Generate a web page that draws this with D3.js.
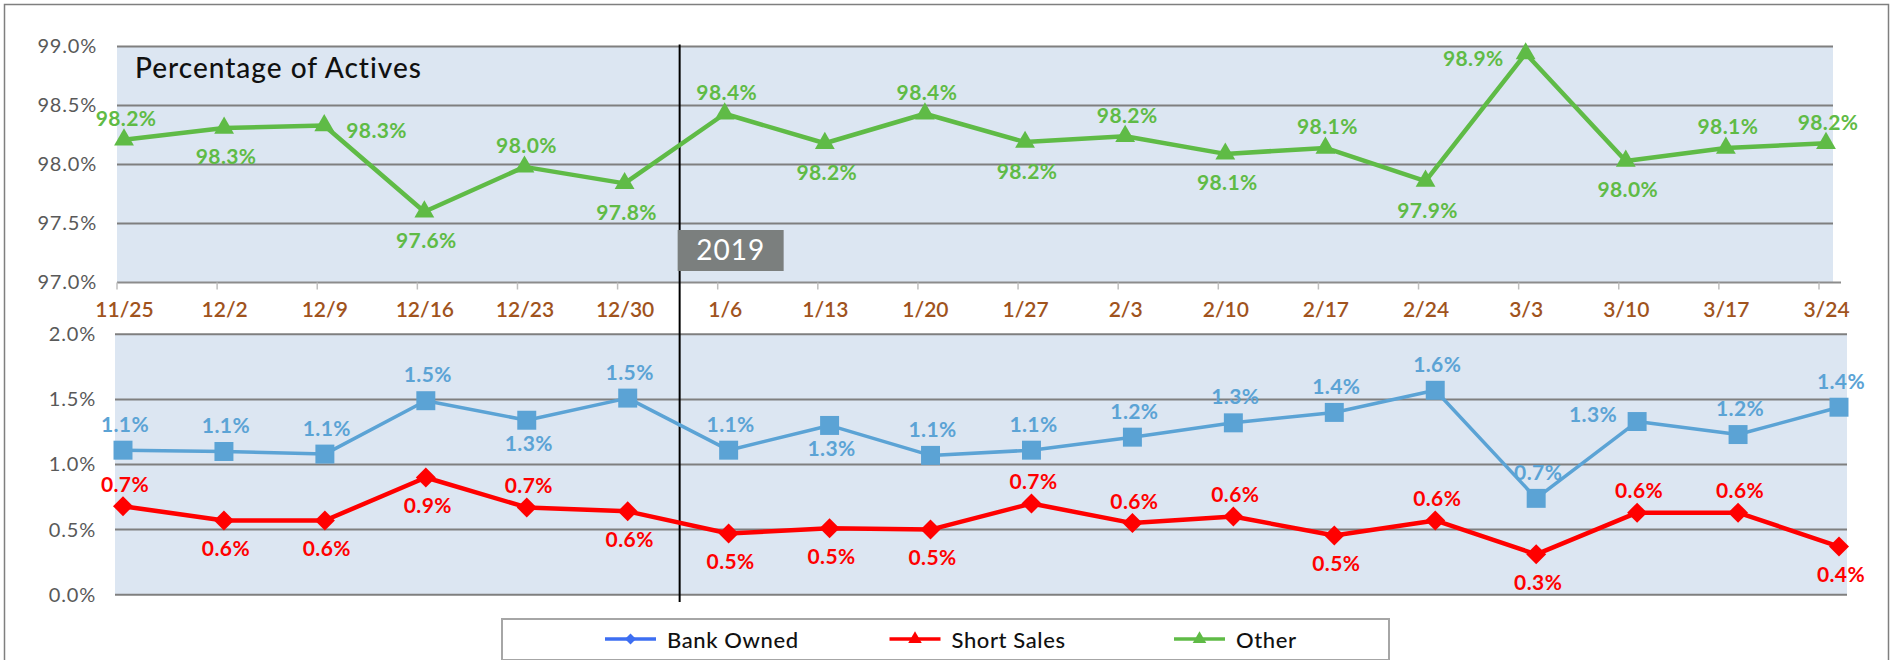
<!DOCTYPE html>
<html>
<head>
<meta charset="utf-8">
<script src="https://cdn.jsdelivr.net/npm/d3@7"></script>
<style>
  body { margin: 0; background: #fff; }
  svg { display: block; font-family: Lato, "Open Sans", sans-serif; }
</style>
</head>
<body>
<div id="chart"></div>
<script>
// week labels (category axis)
var weeks = ["11/25", "12/2", "12/9", "12/16", "12/23", "12/30", "1/6", "1/13", "1/20",
             "1/27", "2/3", "2/10", "2/17", "2/24", "3/3", "3/10", "3/17", "3/24"];

// percentage of actives
var otherPct = [98.21, 98.31, 98.33, 97.60, 97.98, 97.84, 98.43, 98.18, 98.43,
                98.19, 98.24, 98.09, 98.14, 97.86, 98.94, 98.03, 98.14, 98.18];
var bankOwnedPct = [1.11, 1.10, 1.08, 1.49, 1.34, 1.51, 1.11, 1.30, 1.07,
                    1.11, 1.21, 1.32, 1.40, 1.57, 0.74, 1.33, 1.23, 1.44];
var shortSalesPct = [0.68, 0.57, 0.57, 0.90, 0.67, 0.64, 0.47, 0.51, 0.50,
                     0.70, 0.55, 0.60, 0.455, 0.57, 0.31, 0.63, 0.63, 0.37];

// where each data label sits relative to its point
var otherLabelPos = ["above", "below", "right", "below", "above", "below", "above", "below", "above",
                     "below", "above", "below", "above", "below", "left", "below", "above", "above"];
var bankLabelPos = ["above", "above", "above", "above", "below", "above", "above", "below", "above",
                    "above", "above", "above", "above", "above", "above", "left", "above", "above"];
var shortLabelPos = ["above", "below", "below", "below", "above", "below", "below", "below", "below",
                     "above", "above", "above", "below", "above", "below", "above", "above", "below"];

var topTicks = [97, 97.5, 98, 98.5, 99];
var bottomTicks = [0, 0.5, 1, 1.5, 2];
var legendItems = ["Bank Owned", "Short Sales", "Other"];
var chartTitle = "Percentage of Actives";
var yearMark = "2019";

var width = 1895, height = 660;

var svg = d3.select("#chart").append("svg")
    .attr("width", width)
    .attr("height", height);

// outer frame
svg.append("rect")
    .attr("x", 4.5).attr("y", 4.5)
    .attr("width", 1884).attr("height", 700)
    .attr("fill", "none")
    .attr("stroke", "#7f7f7f")
    .attr("stroke-width", 1.5);

var fmt = function(v) { return v.toFixed(1) + "%"; };

// scales
var xTop = d3.scalePoint().domain(weeks).range([124, 1826]);
var xBot = d3.scalePoint().domain(weeks).range([123, 1839]);
var yTop = d3.scaleLinear().domain([97, 99]).range([282.5, 46.5]);
var yBot = d3.scaleLinear().domain([0, 2]).range([594.7, 334.3]);

var green = "#5fbb46", red = "#ff0000", blue = "#5ba3d5";

/*********************** top panel ***********************/
var topG = svg.append("g");

topG.append("rect")
    .attr("x", 117).attr("y", yTop(99))
    .attr("width", 1833 - 117).attr("height", yTop(97) - yTop(99))
    .attr("fill", "#dce6f2");

topG.selectAll(".grid").data(topTicks.slice(1)).enter().append("line")
    .attr("x1", 117).attr("x2", 1833)
    .attr("y1", d => yTop(d)).attr("y2", d => yTop(d))
    .attr("stroke", "#7f7f7f").attr("stroke-width", 2);

// category axis line + ticks
topG.append("line")
    .attr("x1", 117).attr("x2", 1841)
    .attr("y1", yTop(97)).attr("y2", yTop(97))
    .attr("stroke", "#8c8c8c").attr("stroke-width", 2);
topG.selectAll(".tk").data(weeks).enter().append("line")
    .attr("x1", d => xTop(d) - 7).attr("x2", d => xTop(d) - 7)
    .attr("y1", yTop(97)).attr("y2", yTop(97) + 7)
    .attr("stroke", "#bfbfbf").attr("stroke-width", 1.5);

var yAxisTop = topG.append("g")
    .attr("transform", "translate(97,0)")
    .call(d3.axisLeft(yTop).tickValues(topTicks).tickSize(0).tickPadding(0).tickFormat(fmt));
yAxisTop.select(".domain").remove();
yAxisTop.selectAll("text")
    .attr("font-family", "Lato, sans-serif")
    .attr("font-size", 20).attr("letter-spacing", 0.8).attr("fill", "#595959");

var xAxisTop = topG.append("g")
    .attr("transform", "translate(0," + (yTop(97) + 10) + ")")
    .call(d3.axisBottom(xTop).tickSize(0).tickPadding(10));
xAxisTop.select(".domain").remove();
xAxisTop.selectAll("text")
    .attr("font-family", "Lato, sans-serif")
    .attr("font-size", 21).attr("font-weight", 600).attr("fill", "#a0531d");

topG.append("text")
    .attr("x", 135).attr("y", 78)
    .attr("font-size", 28).attr("font-weight", 500).attr("letter-spacing", 1)
    .attr("fill", "#111")
    .text(chartTitle);

/*********************** bottom panel ***********************/
var botG = svg.append("g");

botG.append("rect")
    .attr("x", 115).attr("y", yBot(2))
    .attr("width", 1847 - 115).attr("height", yBot(0) - yBot(2))
    .attr("fill", "#dce6f2");

botG.selectAll(".grid").data(bottomTicks).enter().append("line")
    .attr("x1", 115).attr("x2", 1847)
    .attr("y1", d => yBot(d)).attr("y2", d => yBot(d))
    .attr("stroke", "#7f7f7f").attr("stroke-width", 2);

var yAxisBot = botG.append("g")
    .attr("transform", "translate(96,0)")
    .call(d3.axisLeft(yBot).tickValues(bottomTicks).tickSize(0).tickPadding(0).tickFormat(fmt));
yAxisBot.select(".domain").remove();
yAxisBot.selectAll("text")
    .attr("font-family", "Lato, sans-serif")
    .attr("font-size", 20).attr("letter-spacing", 0.8).attr("fill", "#595959");

/*********************** 2019 divider ***********************/
var divX = (xTop("12/30") + xTop("1/6")) / 2 + 5;
svg.append("line")
    .attr("x1", divX).attr("x2", divX)
    .attr("y1", yTop(99) - 2).attr("y2", 602)
    .attr("stroke", "#000").attr("stroke-width", 2);
svg.append("rect")
    .attr("x", divX - 2).attr("y", 230)
    .attr("width", 106).attr("height", 41)
    .attr("fill", "#7b7f7e");
svg.append("text")
    .attr("x", divX + 51).attr("y", 260)
    .attr("text-anchor", "middle")
    .attr("font-size", 28).attr("letter-spacing", 1).attr("fill", "#fff")
    .text(yearMark);

/*********************** series ***********************/
function drawSeries(g, x, y, values, color, lineWidth, symbolType, symbolSize, rotate, labelPos, offs) {
  var pts = weeks.map((w, i) => ({ w: w, v: values[i], pos: labelPos[i] }));

  g.append("path")
      .datum(pts)
      .attr("fill", "none")
      .attr("stroke", color)
      .attr("stroke-width", lineWidth)
      .attr("stroke-linejoin", "round")
      .attr("d", d3.line().x(d => x(d.w)).y(d => y(d.v)));

  g.selectAll(".mk").data(pts).enter().append("path")
      .attr("d", d3.symbol().type(symbolType).size(symbolSize))
      .attr("fill", color)
      .attr("transform", d => "translate(" + x(d.w) + "," + y(d.v) + ") rotate(" + rotate + ")");

  g.selectAll(".lb").data(pts).enter().append("text")
      .attr("x", d => x(d.w) + (d.pos === "right" ? offs.side : d.pos === "left" ? -offs.side : 2))
      .attr("y", d => y(d.v) + (d.pos === "above" ? offs.above : d.pos === "below" ? offs.below : offs.mid))
      .attr("text-anchor", d => d.pos === "right" ? "start" : d.pos === "left" ? "end" : "middle")
      .attr("dominant-baseline", "central")
      .attr("font-size", 21).attr("font-weight", 700).attr("letter-spacing", 0.4)
      .attr("fill", color)
      .text(d => fmt(d.v));
}

drawSeries(svg.append("g"), xTop, yTop, otherPct, green, 4.5, d3.symbolTriangle, 170, 0,
           otherLabelPos, { above: -22, below: 28, side: 22, mid: 4 });
drawSeries(svg.append("g"), xBot, yBot, bankOwnedPct, blue, 3.5, d3.symbolSquare, 360, 0,
           bankLabelPos, { above: -27, below: 22, side: 20, mid: -8 });
drawSeries(svg.append("g"), xBot, yBot, shortSalesPct, red, 4.5, d3.symbolSquare, 200, 45,
           shortLabelPos, { above: -23, below: 27, side: 14, mid: -8 });

/*********************** legend ***********************/
var legend = svg.append("g");
legend.append("rect")
    .attr("x", 502).attr("y", 619)
    .attr("width", 1389 - 502).attr("height", 41)
    .attr("fill", "#fff")
    .attr("stroke", "#a6a6a6").attr("stroke-width", 2);

var legendColors = ["#3d6ef2", red, green];
var legendSymbols = [d3.symbolSquare, d3.symbolTriangle, d3.symbolTriangle];
var legendStarts = d3.scalePoint().domain(legendItems).range([605, 1174]);

var li = legend.selectAll(".li").data(legendItems).enter().append("g")
    .attr("transform", d => "translate(" + legendStarts(d) + ",639)");
li.append("line")
    .attr("x1", 0).attr("x2", 51)
    .attr("stroke", (d, i) => legendColors[i]).attr("stroke-width", 3.5);
li.append("path")
    .attr("d", (d, i) => d3.symbol().type(legendSymbols[i]).size(i === 0 ? 60 : 80)())
    .attr("transform", (d, i) => "translate(25.5,0)" + (i === 0 ? " rotate(45)" : ""))
    .attr("fill", (d, i) => legendColors[i]);
li.append("text")
    .attr("x", 62).attr("y", 0)
    .attr("dominant-baseline", "central")
    .attr("font-size", 22).attr("font-weight", 500).attr("letter-spacing", 0.6).attr("fill", "#111")
    .text(d => d);
</script>
</body>
</html>
